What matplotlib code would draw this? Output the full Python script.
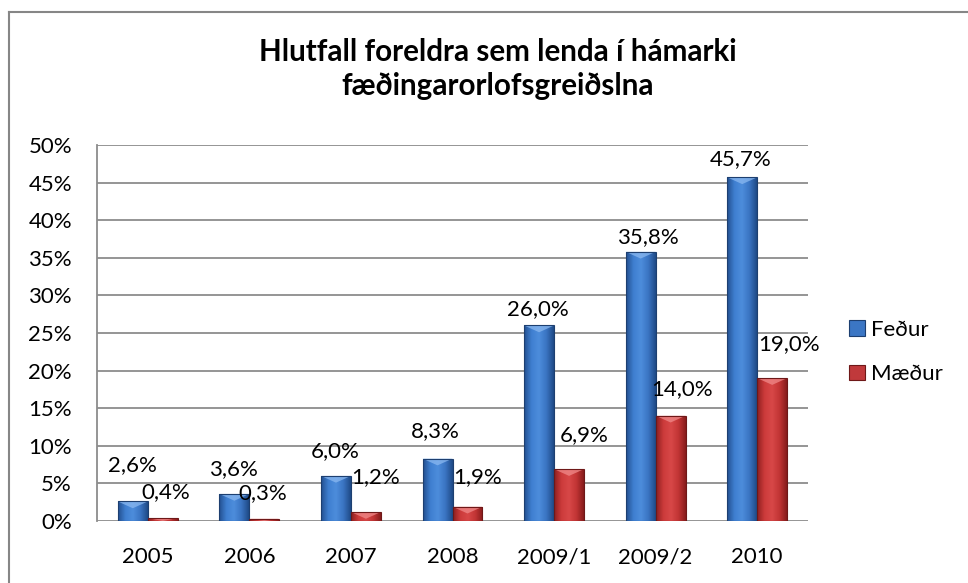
import numpy as np
import matplotlib
matplotlib.use('Agg')
import matplotlib.pyplot as plt
from matplotlib.colors import LinearSegmentedColormap
from matplotlib.patches import Patch, Polygon
from matplotlib.lines import Line2D

plt.rcParams['font.family'] = ['Lato', 'DejaVu Sans']

# Data
years = ['2005', '2006', '2007', '2008', '2009/1', '2009/2', '2010']
fedur = [2.6, 3.6, 6.0, 8.3, 26.0, 35.8, 45.7]
maedur = [0.4, 0.3, 1.2, 1.9, 6.9, 14.0, 19.0]
series_names = ['Feður', 'Mæður']
y_ticks = [0, 5, 10, 15, 20, 25, 30, 35, 40, 45, 50]
title = 'Hlutfall foreldra sem lenda í hámarki\nfæðingarorlofsgreiðslna'

# label nudges in pixels (the data labels were moved by hand in the original)
fedur_off = [(0, 36), (-1, 25), (-1, 25), (-2, 27), (-1, 16), (7, 15), (-2, 18)]
maedur_off = [(3, 26), (-2, 26), (10, 35), (10, 30), (15, 34), (11, 27), (17, 34)]

blue_cmap = LinearSegmentedColormap.from_list(
    'blue', ['#224f8f', '#3f7fd0', '#4d8ddc', '#3a74c2', '#1f4a86'])
red_cmap = LinearSegmentedColormap.from_list(
    'red', ['#8e1f1f', '#cc3b3b', '#d84848', '#c23535', '#861c1c'])

fig = plt.figure(figsize=(9.68, 5.83), dpi=100)
ax = fig.add_axes([97 / 968, 1 - 521 / 583, (808 - 97) / 968, (521 - 145) / 583])

x = np.arange(len(years))
w = 0.295
bevel = 0.9  # depth of the lighter top face, in data units


def gradient_bars(xs, vals, cmap, edge, top):
    bars = ax.bar(xs, vals, width=w, color='none', edgecolor=edge, linewidth=0.8, zorder=4)
    grad = np.linspace(0, 1, 128).reshape(1, -1)
    for b in bars:
        x0, y0 = b.get_x(), b.get_y()
        bw, bh = b.get_width(), b.get_height()
        im = ax.imshow(grad, extent=(x0, x0 + bw, y0, y0 + bh),
                       cmap=cmap, aspect='auto', zorder=3, interpolation='bilinear')
        im.set_clip_path(b)
        d = min(bevel, bh)
        tri = Polygon([(x0, y0 + bh), (x0 + bw, y0 + bh), (x0 + bw / 2, y0 + bh - d)],
                      closed=True, facecolor=top, edgecolor='none', alpha=0.75, zorder=3.5)
        ax.add_patch(tri)
    return bars


b1 = gradient_bars(x - w / 2, fedur, blue_cmap, '#1d3f70', '#8ab8f0')
b2 = gradient_bars(x + w / 2, maedur, red_cmap, '#6e1818', '#f08a8a')


def fmt(v):
    return f'{v:.1f}'.replace('.', ',') + '%'


for bars, vals, offs in [(b1, fedur, fedur_off), (b2, maedur, maedur_off)]:
    for b, v, (dx, dy) in zip(bars, vals, offs):
        ax.annotate(fmt(v), (b.get_x() + b.get_width() / 2, v),
                    xytext=(dx, dy), textcoords='offset pixels',
                    ha='center', va='center', fontsize=16, zorder=6)

ax.set_xlim(-0.5, len(years) - 0.5)
ax.set_ylim(0, 50)
ax.set_yticks(y_ticks)
ax.set_yticklabels([f'{t}%' for t in y_ticks])
ax.set_xticks(x)
ax.set_xticklabels(years)
ax.tick_params(axis='both', length=0, labelsize=16)
ax.tick_params(axis='y', pad=18)
ax.tick_params(axis='x', pad=19)

ax.grid(axis='y', color='#8c8c8c', linewidth=1.3, zorder=0)
ax.set_axisbelow(True)
for s in ['top', 'right', 'bottom']:
    ax.spines[s].set_visible(False)
ax.spines['left'].set_color('#8c8c8c')
ax.spines['left'].set_linewidth(1.3)

fig.text(498 / 968, 1 - 69 / 583, title, ha='center', va='center',
         fontsize=21.3, fontweight='bold', linespacing=1.22)

handles = [Patch(facecolor='#3b76c4', edgecolor='#1d3f70', linewidth=0.8),
           Patch(facecolor='#c0393b', edgecolor='#6e1818', linewidth=0.8)]
fig.legend(handles, series_names, loc='center left',
           bbox_to_anchor=(849 / 968, 1 - 352 / 583), frameon=False,
           fontsize=16, handlelength=0.7, handleheight=0.7,
           handletextpad=0.3, labelspacing=1.1, borderpad=0, borderaxespad=0)

# chart border (right and bottom edges are cropped in the original)
fig.add_artist(Line2D([9 / 968, 9 / 968], [0, 1 - 12 / 583], color='#868686', linewidth=1.5))
fig.add_artist(Line2D([9 / 968, 1], [1 - 12 / 583, 1 - 12 / 583], color='#868686', linewidth=1.5))

fig.savefig('out.png', dpi=100)
